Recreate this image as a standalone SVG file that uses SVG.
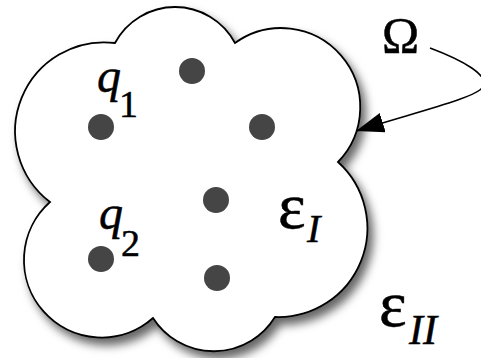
<svg xmlns="http://www.w3.org/2000/svg" width="481" height="358" viewBox="0 0 481 358">
  <style>
    .cloud { fill: #ffffff; stroke: #000000; stroke-width: 1.8; }
    .dot { fill: #454545; }
    text { font-family: 'Liberation Serif', 'Times New Roman', serif; fill: #000000; stroke: #000000; stroke-width: 0.5; }
    .it { font-style: italic; }
    .conn { fill: none; stroke: #000000; stroke-width: 1.6; }
  </style>
  <defs>
    <filter id="shadow" x="-20%" y="-20%" width="150%" height="150%">
      <feDropShadow dx="5" dy="7" stdDeviation="5" flood-color="#000000" flood-opacity="0.6"/>
    </filter>
    <marker id="arrow" viewBox="0 0 28 20" refX="28" refY="10" markerWidth="28" markerHeight="20" markerUnits="userSpaceOnUse" orient="auto">
      <path d="M0,0 L28,10 L0,20 Z" fill="#000000"/>
    </marker>
  </defs>
  <rect width="481" height="358" fill="#ffffff"/>

  <g id="region-omega">
    <path class="cloud" filter="url(#shadow)" d="M115,43 A68,68 0 0,1 235,43 A79,79 0 0,1 338,162 A89,89 0 0,1 275,317 A72,72 0 0,1 153,318 A77.5,77.5 0 0,1 50,202 A89,89 0 0,1 115,43 Z"/>
  </g>

  <g id="charge-q1">
    <circle class="dot" cx="101" cy="127" r="13"/>
    <text class="it" x="97" y="92" font-size="48">q</text>
    <text x="119" y="117" font-size="38">1</text>
  </g>
  <g id="charge-a">
    <circle class="dot" cx="192" cy="71" r="13"/>
  </g>
  <g id="charge-b">
    <circle class="dot" cx="262" cy="127" r="13"/>
  </g>
  <g id="charge-c">
    <circle class="dot" cx="216" cy="200" r="13"/>
  </g>
  <g id="charge-q2">
    <circle class="dot" cx="101" cy="259" r="13"/>
    <text class="it" x="99" y="229" font-size="48">q</text>
    <text x="121" y="256" font-size="38">2</text>
  </g>
  <g id="charge-d">
    <circle class="dot" cx="217" cy="278" r="13"/>
  </g>

  <g id="label-eps-I">
    <text x="278" y="228" font-size="66">ε</text>
    <text class="it" x="307" y="242" font-size="40">I</text>
  </g>
  <g id="label-eps-II">
    <text x="379" y="326" font-size="66">ε</text>
    <text class="it" x="409" y="344" font-size="42">II</text>
  </g>
  <g id="label-omega">
    <text x="382" y="52" font-size="50">Ω</text>
  </g>

  <g id="connectors">
    <path class="conn" marker-end="url(#arrow)" d="M430,48 C462,60 492,76 482,88 C474,98 420,111 356,131"/>
  </g>
</svg>
